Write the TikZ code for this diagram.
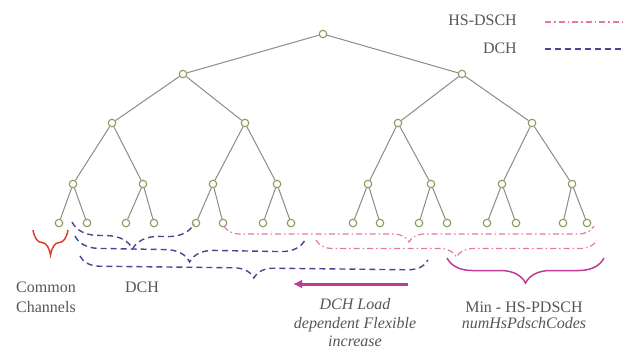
\documentclass[tikz,border=0pt]{standalone}
\usepackage{fontspec}
\setmainfont{Liberation Serif}
\usetikzlibrary{decorations.pathreplacing,arrows.meta}
\definecolor{treegray}{RGB}{140,140,130}
\definecolor{nodegreen}{RGB}{135,155,95}
\definecolor{dchblue}{RGB}{70,70,150}
\definecolor{hspink}{RGB}{225,120,170}
\definecolor{minmagenta}{RGB}{190,60,150}
\definecolor{ccred}{RGB}{225,60,40}
\definecolor{textgray}{RGB}{85,85,95}
\tikzset{
    tree-node/.style = {draw=nodegreen, fill=white, circle, line width=1.1pt, inner sep=0pt, minimum size=7.5pt},
    tree-edge/.style = {draw=treegray, line width=1pt},
    dch-brace/.style = {draw=dchblue, line width=1.4pt, dash pattern=on 6pt off 4pt, decorate, decoration={brace, mirror, amplitude=#1}},
    hs-brace/.style = {draw=hspink, line width=1.2pt, dash pattern=on 6pt off 3pt on 1.5pt off 3pt, decorate, decoration={brace, mirror, amplitude=#1}},
    solid-brace/.style = {draw=#1, line width=1.5pt, decorate, decoration={brace, mirror, amplitude=25pt}},
    load-arrow/.style = {draw=minmagenta, line width=3pt, -{Latex[length=9pt,width=9pt]}},
    label-text/.style = {text=textgray, font=\fontsize{16}{19}\selectfont, align=center, inner sep=0pt},
}

\begin{document}
\begin{tikzpicture}[x=1pt, y=-1pt]
\useasboundingbox (0,0) rectangle (626,351);
\node[tree-node] (r) at (323,34) {};
\foreach \x [count=\i] in {183,462} \node[tree-node] (a\i) at (\x,74) {};
\foreach \x [count=\i] in {112,245,398,532} \node[tree-node] (b\i) at (\x,123) {};
\foreach \x [count=\i] in {73,143,213,277,368,431,502,572} \node[tree-node] (c\i) at (\x,184) {};
\foreach \x [count=\i] in {59,87,126,154,196,223,263,291,353,380,419,447,487,516,563,587}
    \node[tree-node] (d\i) at (\x,223) {};
\foreach \i in {1,2} \draw[tree-edge] (r) -- (a\i);
\foreach \i in {1,...,8} {
    \pgfmathtruncatemacro{\p}{(\i+1)/2}
    \pgfmathtruncatemacro{\k}{2*\i-1}
    \pgfmathtruncatemacro{\m}{2*\i}
    \draw[tree-edge] (c\i) -- (d\k);
    \draw[tree-edge] (c\i) -- (d\m);
    \ifodd\i \draw[tree-edge] (b\p) -- (c\i); \draw[tree-edge] (b\p) -- (c\the\numexpr\i+1\relax); \fi
}
\foreach \i in {1,2} {
    \pgfmathtruncatemacro{\k}{2*\i-1}
    \pgfmathtruncatemacro{\m}{2*\i}
    \draw[tree-edge] (a\i) -- (b\k);
    \draw[tree-edge] (a\i) -- (b\m);
}

\coordinate (hs-leg-l) at (545,22);
\coordinate (hs-leg-r) at (622,22);
\coordinate (dch-leg-l) at (545,49);
\coordinate (dch-leg-r) at (622,49);
\node[label-text, anchor=east] (hs-leg) at (517,20) {HS-DSCH};
\node[label-text, anchor=east] (dch-leg) at (517,48) {DCH};
\draw[hs-brace=0pt, decoration={name=none}] (hs-leg-l) -- (hs-leg-r);
\draw[dch-brace=0pt, decoration={name=none}] (dch-leg-l) -- (dch-leg-r);

\coordinate (cc-l) at (33,230);
\coordinate (cc-r) at (68,230);
\draw[solid-brace=ccred] (cc-l) -- (cc-r);

\coordinate (dch1-l) at (72,222);
\coordinate (dch1-r) at (194,224);
\coordinate (dch2-l) at (75,236);
\coordinate (dch2-r) at (305,240);
\coordinate (dch3-l) at (80,256);
\coordinate (dch3-r) at (428,260);
\draw[dch-brace=26pt] (dch1-l) -- (dch1-r);
\draw[dch-brace=24pt] (dch2-l) -- (dch2-r);
\draw[dch-brace=20pt] (dch3-l) -- (dch3-r);

\coordinate (hs1-l) at (224,226);
\coordinate (hs1-r) at (594,226);
\coordinate (hs2-l) at (316,240);
\coordinate (hs2-r) at (597,240);
\draw[hs-brace=16pt] (hs1-l) -- (hs1-r);
\draw[hs-brace=17pt] (hs2-l) -- (hs2-r);

\coordinate (min-l) at (447,258);
\coordinate (min-r) at (604,258);
\draw[solid-brace=minmagenta] (min-l) -- (min-r);

\coordinate (arr-start) at (408,284);
\coordinate (arr-end) at (293,284);
\draw[load-arrow] (arr-start) -- (arr-end);

\node[label-text, align=left, font=\fontsize{16}{20}\selectfont] (cc-text) at (46,297) {Common\\Channels};
\node[label-text] (dch-text) at (142,287) {DCH};
\node[label-text, font=\fontsize{16}{18.5}\selectfont\itshape] (load-text) at (355,323) {DCH Load\\dependent Flexible\\increase};
\node[label-text, font=\fontsize{16}{16}\selectfont] (min-text) at (524,315) {Min - HS-PDSCH\\\textit{numHsPdschCodes}};
\end{tikzpicture}
\end{document}
